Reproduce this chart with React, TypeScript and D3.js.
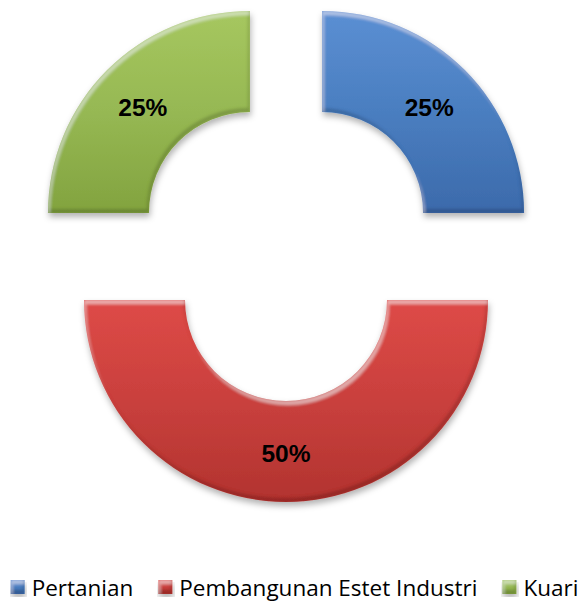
import React, { useEffect, useRef } from "react";
import * as d3 from "d3";

const categories = ["Pertanian", "Pembangunan Estet Industri", "Kuari"];
const values = [25, 50, 25];
const labels = ["25%", "50%", "25%"];
const colorsTop = ["#5b8fd3", "#de4a47", "#a6c75f"];
const colorsBottom = ["#3c6aab", "#b2332f", "#82a33f"];
const colorsMid = ["#4a7ec0", "#c9403d", "#96b853"];

const W = 579;
const H = 601;

export default function App() {
  const ref = useRef<SVGSVGElement | null>(null);

  useEffect(() => {
    document.body.style.margin = "0";
    const svg = d3.select(ref.current);
    svg.selectAll("*").remove();

    const defs = svg.append("defs");
    categories.forEach((_, i) => {
      const g = defs
        .append("linearGradient")
        .attr("id", `grad${i}`)
        .attr("x1", 0)
        .attr("y1", 0)
        .attr("x2", 0)
        .attr("y2", 1);
      g.append("stop").attr("offset", "0%").attr("stop-color", colorsTop[i]);
      g.append("stop").attr("offset", "50%").attr("stop-color", colorsMid[i]);
      g.append("stop").attr("offset", "100%").attr("stop-color", colorsBottom[i]);
    });

    const f = defs
      .append("filter")
      .attr("id", "bevel")
      .attr("x", "-10%")
      .attr("y", "-10%")
      .attr("width", "125%")
      .attr("height", "125%");
    f.append("feOffset").attr("in", "SourceAlpha").attr("dx", -2).attr("dy", -4).attr("result", "up");
    f.append("feComposite").attr("in", "SourceAlpha").attr("in2", "up").attr("operator", "out").attr("result", "bEdge");
    f.append("feGaussianBlur").attr("in", "bEdge").attr("stdDeviation", 1.5).attr("result", "bBlur");
    f.append("feFlood").attr("flood-color", "#000").attr("flood-opacity", 0.35).attr("result", "bFlood");
    f.append("feComposite").attr("in", "bFlood").attr("in2", "bBlur").attr("operator", "in").attr("result", "dark0");
    f.append("feComposite").attr("in", "dark0").attr("in2", "SourceAlpha").attr("operator", "in").attr("result", "dark");
    f.append("feOffset").attr("in", "SourceAlpha").attr("dx", 2).attr("dy", 4).attr("result", "down");
    f.append("feComposite").attr("in", "SourceAlpha").attr("in2", "down").attr("operator", "out").attr("result", "tEdge");
    f.append("feGaussianBlur").attr("in", "tEdge").attr("stdDeviation", 1.5).attr("result", "tBlur");
    f.append("feFlood").attr("flood-color", "#fff").attr("flood-opacity", 0.4).attr("result", "tFlood");
    f.append("feComposite").attr("in", "tFlood").attr("in2", "tBlur").attr("operator", "in").attr("result", "light0");
    f.append("feComposite").attr("in", "light0").attr("in2", "SourceAlpha").attr("operator", "in").attr("result", "light");
    f.append("feGaussianBlur").attr("in", "SourceAlpha").attr("stdDeviation", 3).attr("result", "sBlur");
    f.append("feOffset").attr("in", "sBlur").attr("dx", 1).attr("dy", 4).attr("result", "sOff");
    f.append("feFlood").attr("flood-color", "#000").attr("flood-opacity", 0.3).attr("result", "sFlood");
    f.append("feComposite").attr("in", "sFlood").attr("in2", "sOff").attr("operator", "in").attr("result", "shadow");
    const m = f.append("feMerge");
    m.append("feMergeNode").attr("in", "shadow");
    m.append("feMergeNode").attr("in", "SourceGraphic");
    m.append("feMergeNode").attr("in", "dark");
    m.append("feMergeNode").attr("in", "light");

    const cx = 286;
    const cy = 249;
    const outerR = 202;
    const innerR = 101;
    const explode = 51;

    const pie = d3
      .pie<number>()
      .sort(null)
      .startAngle(0)
      .endAngle(2 * Math.PI);
    const arcs = pie(values);
    const arc = d3.arc<d3.PieArcDatum<number>>().innerRadius(innerR).outerRadius(outerR);

    const g = svg.append("g").attr("transform", `translate(${cx},${cy})`);
    arcs.forEach((a, i) => {
      const mid = (a.startAngle + a.endAngle) / 2;
      const ox = Math.sin(mid) * explode;
      const oy = -Math.cos(mid) * explode;
      const sg = g.append("g").attr("transform", `translate(${ox},${oy})`);
      sg.append("path")
        .attr("d", arc(a) as string)
        .attr("fill", `url(#grad${i})`)
        .attr("filter", "url(#bevel)");
      const [lx, ly] = arc.centroid(a);
      sg.append("text")
        .attr("x", lx)
        .attr("y", ly + 2)
        .attr("text-anchor", "middle")
        .attr("dominant-baseline", "central")
        .attr("font-family", "Liberation Sans, Arial, sans-serif")
        .attr("font-weight", "bold")
        .attr("font-size", 24.5)
        .attr("fill", "#000")
        .text(labels[i]);
    });

    const lg = svg.append("g");
    const fontSize = 22.5;
    const markerSize = 14;
    const textGap = 7;
    const itemGap = 25;
    const items: { w: number }[] = [];
    const nodes = categories.map((c, i) => {
      const it = lg.append("g");
      it.append("rect")
        .attr("width", markerSize)
        .attr("height", markerSize)
        .attr("fill", `url(#grad${i})`)
        .attr("filter", "url(#bevel)");
      const t = it
        .append("text")
        .attr("x", markerSize + textGap)
        .attr("y", markerSize / 2)
        .attr("dominant-baseline", "central")
        .attr("font-family", "Open Sans, Noto Sans, sans-serif")
        .attr("font-size", fontSize)
        .attr("fill", "#000")
        .text(c);
      const tw = (t.node() as SVGTextElement).getComputedTextLength();
      items.push({ w: markerSize + textGap + tw });
      return it;
    });
    const total = items.reduce((s, d) => s + d.w, 0) + itemGap * (items.length - 1);
    let x = (W - total) / 2 + 5;
    nodes.forEach((n, i) => {
      n.attr("transform", `translate(${x},580)`);
      x += items[i].w + itemGap;
    });
  }, []);

  return <svg ref={ref} width={W} height={H} style={{ display: "block" }} />;
}
